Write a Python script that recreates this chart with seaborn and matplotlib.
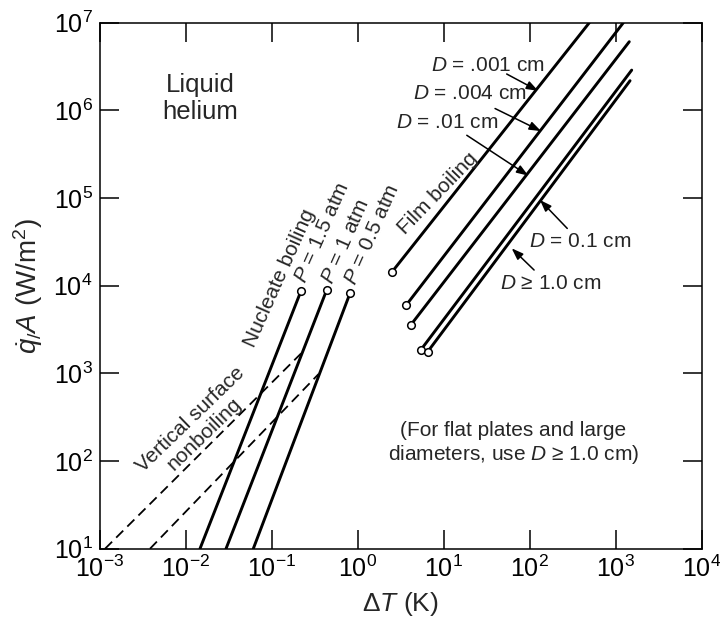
import matplotlib
matplotlib.use("Agg")
import matplotlib.pyplot as plt
from matplotlib.ticker import NullLocator
import pandas as pd
import seaborn as sns

# nucleate boiling: (dT, q/A) at the lower edge and at the open circle
nucleate_names = ["P = 1.5 atm", "P = 1 atm", "P = 0.5 atm"]
nucleate_dt = [[0.0147, 0.219], [0.0295, 0.436], [0.0612, 0.813]]
nucleate_q = [[10, 8690], [10, 8930], [10, 8190]]

# vertical surface, nonboiling (dashed)
nonboil_names = ["upper", "lower"]
nonboil_dt = [[0.00116, 0.22], [0.00386, 0.35]]
nonboil_q = [[10, 1690], [10, 980]]

# film boiling: open circle end first
film_names = ["D = .001 cm", "D = .004 cm", "D = .01 cm", "D = 0.1 cm", "D >= 1.0 cm"]
film_dt = [[2.48, 491], [3.67, 1219], [4.13, 1429], [5.39, 1525], [6.50, 1459]]
film_q = [[14200, 1e7], [6030, 1e7], [3560, 6.07e6], [1845, 2.88e6], [1766, 2.18e6]]


def to_frame(names, dts, qs):
    rows = []
    for name, dt, q in zip(names, dts, qs):
        for x, y in zip(dt, q):
            rows.append({"curve": name, "dT": x, "q": y})
    return pd.DataFrame(rows)


nuc = to_frame(nucleate_names, nucleate_dt, nucleate_q)
nonb = to_frame(nonboil_names, nonboil_dt, nonboil_q)
film = to_frame(film_names, film_dt, film_q)

sns.set_style("ticks")
plt.rcParams["font.family"] = ["Liberation Sans", "DejaVu Sans"]
plt.rcParams["mathtext.fontset"] = "custom"
plt.rcParams["mathtext.rm"] = "Liberation Sans"
plt.rcParams["mathtext.it"] = "Liberation Sans:italic"
plt.rcParams["mathtext.default"] = "regular"

fig = plt.figure(figsize=(7.2, 6.22), dpi=100)
ax = fig.add_axes([0.1382, 0.1178, 0.8368, 0.8457])

sns.lineplot(data=nuc, x="dT", y="q", units="curve", estimator=None, sort=False,
             color="black", lw=2.1, ax=ax)
sns.lineplot(data=film, x="dT", y="q", units="curve", estimator=None, sort=False,
             color="black", lw=2.1, ax=ax)
sns.lineplot(data=nonb, x="dT", y="q", units="curve", estimator=None, sort=False,
             color="black", lw=1.3, linestyle=(0, (5.5, 3.2)), ax=ax)

# open circles: top of nucleate curves, bottom of film curves
ends = pd.concat([nuc.groupby("curve").last(), film.groupby("curve").first()])
sns.scatterplot(data=ends, x="dT", y="q", s=30, facecolor="white",
                edgecolor="black", linewidth=1.1, zorder=5, ax=ax)

ax.set_xscale("log")
ax.set_yscale("log")
ax.set_xlim(1e-3, 1e4)
ax.set_ylim(1e1, 1e7)
ax.xaxis.set_minor_locator(NullLocator())
ax.yaxis.set_minor_locator(NullLocator())
ax.tick_params(which="major", direction="in", length=13.5, width=1.1,
               top=True, right=True, labelsize=18, pad=5, colors="black")
for s in ax.spines.values():
    s.set_linewidth(1.1)
    s.set_color("black")

ax.set_xlabel(r"$\Delta\mathit{T}$ (K)", fontsize=19, labelpad=6)
ax.set_ylabel(r"$\dot{\mathit{q}}_{/}\mathit{A}$ (W/m$^2$)", fontsize=20, labelpad=6)

D = r"$\mathit{D}$"
P = r"$\mathit{P}$"
txt = dict(fontsize=15, ha="center", va="center", rotation_mode="anchor")
ax.text(0.0147, 1.38e6, "Liquid\nhelium", fontsize=18.5, ha="center", va="center",
        linespacing=1.15)
ax.text(0.1225, 12130, "Nucleate boiling", rotation=66, **txt)
ax.text(0.390, 40450, P + " = 1.5 atm", rotation=66, **txt)
ax.text(0.728, 31760, P + " = 1 atm", rotation=66, **txt)
ax.text(1.455, 37840, P + " = 0.5 atm", rotation=66, **txt)
ax.text(0.01377, 244, "Vertical surface\nnonboiling", rotation=44, linespacing=1.1, **txt)
ax.text(8.63, 1.13e5, "Film boiling", rotation=46, **txt)
ax.text(64.3, 159, "(For flat plates and large\ndiameters, use " + D + " ≥ 1.0 cm)",
        fontsize=15, ha="center", va="center", linespacing=1.2)

ax.text(32.9, 3.29e6, D + " = .001 cm", fontsize=15, ha="center", va="center")
ax.text(20.2, 1.56e6, D + " = .004 cm", fontsize=15, ha="center", va="center")
ax.text(10.8, 7.3e5, D + " = .01 cm", fontsize=15, ha="center", va="center")
ax.text(383, 3.18e4, D + " = 0.1 cm", fontsize=15, ha="center", va="center")
ax.text(175, 1.06e4, D + " ≥ 1.0 cm", fontsize=15, ha="center", va="center")

arrow = dict(arrowstyle="-|>,head_length=0.5,head_width=0.18", color="black",
             lw=1.1, mutation_scale=14, shrinkA=0, shrinkB=0)
ax.annotate("", xy=(125, 1.67e6), xytext=(53.8, 2.6e6), arrowprops=arrow)
ax.annotate("", xy=(135, 5.8e5), xytext=(39.4, 1.05e6), arrowprops=arrow)
ax.annotate("", xy=(96, 1.8e5), xytext=(18.5, 5.2e5), arrowprops=arrow)
ax.annotate("", xy=(131, 9.5e4), xytext=(272, 4.5e4), arrowprops=arrow)
ax.annotate("", xy=(61.5, 2.67e4), xytext=(112, 1.51e4), arrowprops=arrow)

fig.savefig("out.png", dpi=100)
